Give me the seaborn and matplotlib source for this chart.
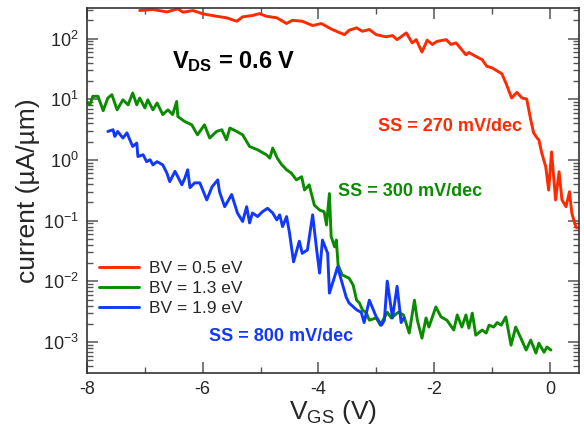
import numpy as np
import pandas as pd
import matplotlib
matplotlib.use("Agg")
import matplotlib.pyplot as plt
import seaborn as sns
from matplotlib.ticker import MultipleLocator, FixedLocator, NullFormatter, LogFormatterSciNotation

# ---- data ----
series_labels = ["BV = 0.5 eV", "BV = 1.3 eV", "BV = 1.9 eV"]

v_red = [-7.09, -6.86, -6.62, -6.43, -6.34, -6.17, -6.00, -5.76, -5.59, -5.41,
         -5.31, -5.14, -5.02, -4.90, -4.72, -4.55, -4.45, -4.28, -4.10, -3.95,
         -3.76, -3.55, -3.47, -3.34, -3.24, -3.12, -3.00, -2.83, -2.72, -2.64,
         -2.48, -2.38, -2.31, -2.21, -2.12, -2.03, -1.95, -1.79, -1.71, -1.62,
         -1.45, -1.40, -1.28, -1.17, -1.09, -1.00, -0.83, -0.76, -0.66, -0.57,
         -0.48, -0.40, -0.33, -0.28, -0.22, -0.19, -0.14, -0.07, -0.02, 0.03,
         0.10, 0.16, 0.21, 0.28, 0.34, 0.38, 0.45, 0.47]
i_red = [290, 301, 275, 309, 272, 290, 256, 233, 220, 193,
         228, 240, 258, 233, 220, 177, 200, 193, 164, 177,
         141, 116, 137, 150, 132, 141, 116, 107, 112, 96,
         124, 85, 96, 60, 94, 80, 90, 96, 80, 85,
         54, 59, 51, 45, 35, 33, 26.4, 18.6, 10.5, 13.0,
         10.5, 10.1, 4.6, 2.8, 2.3, 2.15, 1.31, 0.77, 0.32, 1.36,
         0.22, 0.64, 0.22, 0.17, 0.30, 0.134, 0.079, 0.076]

v_green = [-7.98, -7.95, -7.90, -7.81, -7.72, -7.64, -7.57, -7.48, -7.38, -7.29,
           -7.21, -7.14, -7.09, -7.00, -6.95, -6.86, -6.79, -6.69, -6.60, -6.52,
           -6.45, -6.43, -6.31, -6.19, -6.09, -5.97, -5.88, -5.76, -5.67, -5.59,
           -5.53, -5.41, -5.31, -5.19, -5.05, -4.90, -4.84, -4.79, -4.71, -4.64,
           -4.55, -4.47, -4.38, -4.29, -4.24, -4.16, -4.07, -3.98, -3.90, -3.86,
           -3.81, -3.78, -3.72, -3.69, -3.66, -3.59, -3.47, -3.40, -3.34, -3.29,
           -3.24, -3.17, -3.12, -3.00, -2.93, -2.81, -2.74, -2.62, -2.53, -2.43,
           -2.34, -2.29, -2.21, -2.14, -2.09, -1.97, -1.88, -1.78, -1.66, -1.60,
           -1.52, -1.45, -1.40, -1.34, -1.28, -1.17, -1.10, -1.05, -0.97, -0.91,
           -0.84, -0.76, -0.67, -0.59, -0.50, -0.41, -0.33, -0.24, -0.19, -0.10,
           -0.05, 0.02]
i_green = [8.8, 8.1, 11.2, 11.2, 6.5, 10.5, 11.9, 6.7, 9.8, 8.1,
           12.7, 8.1, 10.5, 7.2, 9.8, 6.7, 8.7, 5.6, 6.7, 5.6,
           9.2, 5.2, 4.3, 3.8, 2.6, 3.8, 2.3, 2.95, 3.15, 2.15,
           3.36, 2.95, 2.6, 1.67, 1.47, 1.22, 1.07, 1.57, 1.07, 0.85,
           0.69, 0.61, 0.47, 0.53, 0.32, 0.39, 0.18, 0.15, 0.14, 0.085,
           0.28, 0.055, 0.037, 0.048, 0.0187, 0.0128, 0.0113, 0.0087, 0.0049, 0.0044,
           0.0034, 0.0030, 0.0023, 0.0025, 0.0019, 0.0031, 0.0025, 0.0031, 0.0028, 0.00141,
           0.0049, 0.0023, 0.00116, 0.0025, 0.00177, 0.0038, 0.0026, 0.0023, 0.00158, 0.0028,
           0.00177, 0.0028, 0.0017, 0.0030, 0.0013, 0.00158, 0.00141, 0.0019, 0.00177, 0.0021,
           0.0019, 0.0026, 0.00089, 0.00177, 0.00116, 0.00074, 0.00108, 0.00066, 0.00096, 0.00068,
           0.00083, 0.00074]

v_blue = [-7.64, -7.55, -7.52, -7.47, -7.38, -7.31, -7.26, -7.21, -7.14, -7.12,
          -7.03, -6.97, -6.91, -6.86, -6.79, -6.69, -6.62, -6.57, -6.48, -6.43,
          -6.36, -6.31, -6.26, -6.22, -6.14, -6.05, -5.93, -5.84, -5.74, -5.71,
          -5.62, -5.50, -5.40, -5.31, -5.24, -5.19, -5.14, -5.05, -4.97, -4.88,
          -4.79, -4.72, -4.67, -4.62, -4.55, -4.50, -4.43, -4.33, -4.28, -4.19,
          -4.10, -4.03, -3.98, -3.93, -3.84, -3.81, -3.72, -3.67, -3.59, -3.52,
          -3.47, -3.34, -3.26, -3.21, -3.12, -3.00, -2.91, -2.86, -2.81, -2.72,
          -2.64, -2.57, -2.52]
i_blue = [2.95, 3.15, 2.44, 2.95, 2.3, 2.8, 2.15, 1.67, 1.9, 1.14,
          1.22, 0.94, 1.01, 0.83, 0.94, 0.83, 0.61, 0.44, 0.65, 0.53,
          0.39, 0.50, 0.69, 0.35, 0.42, 0.42, 0.22, 0.36, 0.47, 0.30,
          0.17, 0.27, 0.134, 0.097, 0.17, 0.092, 0.134, 0.117, 0.14, 0.16,
          0.134, 0.103, 0.125, 0.080, 0.117, 0.063, 0.021, 0.046, 0.029, 0.033,
          0.125, 0.033, 0.0137, 0.048, 0.029, 0.0064, 0.012, 0.0173, 0.0094, 0.0055,
          0.0044, 0.0034, 0.0031, 0.0021, 0.0049, 0.0026, 0.0019, 0.0023, 0.0101, 0.0025,
          0.0083, 0.0021, 0.0025]

x_tick_values = [-8, -6, -4, -2, 0]
y_tick_values = [1e-3, 1e-2, 1e-1, 1e0, 1e1, 1e2]
annotations = ["SS = 270 mV/dec", "SS = 300 mV/dec", "SS = 800 mV/dec"]

# ---- style ----
sns.set_theme(style="ticks")
plt.rcParams["font.family"] = ["Liberation Sans", "DejaVu Sans"]
plt.rcParams["mathtext.fontset"] = "custom"
plt.rcParams["mathtext.rm"] = "Liberation Sans"
plt.rcParams["mathtext.it"] = "Liberation Sans:italic"
plt.rcParams["mathtext.bf"] = "Liberation Sans:bold"

colors = ["#ff2a00", "#0b8c00", "#1238ff"]

df = pd.concat([
    pd.DataFrame({"V": v_red, "I": i_red, "BV": series_labels[0]}),
    pd.DataFrame({"V": v_green, "I": i_green, "BV": series_labels[1]}),
    pd.DataFrame({"V": v_blue, "I": i_blue, "BV": series_labels[2]}),
], ignore_index=True)

fig = plt.figure(figsize=(5.84, 4.30), dpi=100)
ax = fig.add_axes([0.149, 0.1326, 0.842, 0.849])
sns.lineplot(data=df, x="V", y="I", hue="BV", hue_order=series_labels,
             palette=dict(zip(series_labels, colors)), estimator=None,
             linewidth=2.1, ax=ax)

y_lo, y_hi = 3.1e-4, 3.2e2
ax.set_yscale("log")
ax.set_xlim(-8, 0.5)
ax.set_ylim(y_lo, y_hi)

ax.xaxis.set_major_locator(FixedLocator(x_tick_values))
ax.xaxis.set_minor_locator(MultipleLocator(1))
ax.set_xticklabels([f"{v:g}" for v in x_tick_values])

minor_y = [m * 10.0 ** e for e in range(-4, 3) for m in range(2, 10)
           if y_lo <= m * 10.0 ** e <= y_hi]
ax.yaxis.set_major_locator(FixedLocator(y_tick_values))
ax.yaxis.set_major_formatter(LogFormatterSciNotation())
ax.yaxis.set_minor_locator(FixedLocator(minor_y))
ax.yaxis.set_minor_formatter(NullFormatter())

for s in ax.spines.values():
    s.set_color("#333333")
    s.set_linewidth(1.2)
ax.tick_params(which="both", direction="in", top=True, right=True,
               color="#555555", labelsize=13, pad=6)
ax.tick_params(which="major", length=8, width=1.1)
ax.tick_params(which="minor", length=4, width=1.0)

ax.set_xlabel(r"V$_{\mathrm{GS}}$ (V)", fontsize=19, labelpad=0)
ax.set_ylabel("current (µA/µm)", fontsize=19, labelpad=2)

ax.text(0.173, 0.852, r"V$_{\mathbf{DS}}$ = 0.6 V", transform=ax.transAxes,
        fontsize=17, fontweight="bold", va="center", ha="left", color="black")
ax.text(0.591, 0.674, annotations[0], transform=ax.transAxes, fontsize=13,
        fontweight="bold", color=colors[0], va="center", ha="left")
ax.text(0.510, 0.496, annotations[1], transform=ax.transAxes, fontsize=13,
        fontweight="bold", color=colors[1], va="center", ha="left")
ax.text(0.248, 0.0986, annotations[2], transform=ax.transAxes, fontsize=13,
        fontweight="bold", color=colors[2], va="center", ha="left")

sns.move_legend(ax, "upper left", bbox_to_anchor=(0.0, 0.34), title=None,
                frameon=False, fontsize=12.5, handlelength=2.3,
                handletextpad=0.55, labelspacing=0.27, borderaxespad=0.3)

fig.savefig("out.png", dpi=100)
